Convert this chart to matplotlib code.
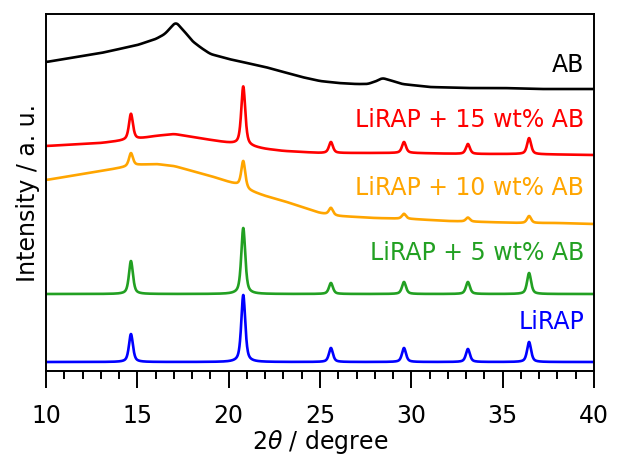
import numpy as np
import matplotlib
matplotlib.use('Agg')
import matplotlib.pyplot as plt

# Reflection positions of LiRAP (2theta, degree)
peak_pos = [14.65, 20.8, 25.6, 29.6, 33.1, 36.45]

# Peak heights above the local background for each pattern (a.u.)
h_lirap = [28, 67, 14, 14, 13, 20]
h_ab5 = [33, 66, 11, 12, 12, 21]
h_ab10 = [13, 27, 7, 5, 4, 7]
h_ab15 = [26, 59, 11, 11, 10, 16]

# Background (stacked, a.u.)
bg_x_ab = [10, 11, 12, 13, 14, 15, 16, 16.5, 17.1, 17.6, 18, 18.5, 19, 20, 21, 22,
           23, 24, 25, 26, 27, 27.6, 28.1, 28.4, 28.8, 29.5, 30, 31, 33, 35, 37, 40]
bg_y_ab = [309, 312, 315, 318, 322, 326, 332, 337, 349, 339, 330, 323, 317, 312, 308, 304,
           299, 294, 290, 288, 287, 287, 290, 293, 291, 287, 286, 284, 283, 283, 282, 282]

bg_x_ab15 = [10, 11, 12, 13, 14, 15, 16, 17, 18, 19, 20, 21, 22, 23, 24, 25, 27, 30, 33, 36, 40]
bg_y_ab15 = [225, 226, 227, 228, 230, 232, 235, 237, 234, 231, 228, 225, 222, 220, 219, 218,
             218, 218, 217, 217, 216]

bg_x_ab10 = [10, 11, 12, 13, 14, 15, 16, 17, 18, 19, 20, 20.5, 21, 21.5, 22, 23, 24, 25,
             26, 27, 28, 30, 32, 34, 36, 38, 40]
bg_y_ab10 = [191, 194, 197, 200, 203, 206, 207, 205, 200, 195, 189, 186, 181, 178, 175, 170,
             164, 158, 155, 154, 153, 152, 150, 149, 148, 148, 147]

base_ab5 = 77
base_lirap = 9

labels = ['AB', 'LiRAP + 15 wt% AB', 'LiRAP + 10 wt% AB', 'LiRAP + 5 wt% AB', 'LiRAP']
label_y = [306, 251, 183, 118, 49]
colors = ['black', '#ff0000', '#ffa500', '#22a022', '#0000ff']

tt = np.linspace(10, 40, 3001)


def background(xs, ys, win=0.4):
    # piecewise background, softened so the corners do not show
    y = np.interp(tt, xs, ys)
    n = int(win / (tt[1] - tt[0]))
    k = np.ones(n) / n
    pad = np.concatenate([np.full(n, y[0]), y, np.full(n, y[-1])])
    return np.convolve(pad, k, mode='same')[n:-n]


def pattern(bg, heights, fwhm=0.26, eta=0.6):
    # pseudo-Voigt reflections on top of a background
    y = np.array(bg, dtype=float) * np.ones_like(tt)
    for p, h in zip(peak_pos, heights):
        d = (tt - p) / (fwhm / 2)
        lor = 1 / (1 + d ** 2)
        gau = np.exp(-np.log(2) * d ** 2)
        y += h * (eta * lor + (1 - eta) * gau)
    return y


curves = [
    background(bg_x_ab, bg_y_ab, 0.3),
    pattern(background(bg_x_ab15, bg_y_ab15), h_ab15),
    pattern(background(bg_x_ab10, bg_y_ab10), h_ab10),
    pattern(base_ab5, h_ab5),
    pattern(base_lirap, h_lirap),
]

fig = plt.figure(figsize=(6.17, 4.55), dpi=100)
ax = fig.add_axes([0.0746, 0.1846, 0.888, 0.7846])

for y, c in zip(curves, colors):
    ax.plot(tt, y, color=c, lw=1.9)

for lab, ly, c in zip(labels, label_y, colors):
    ax.text(39.45, ly, lab, color=c, fontsize=17, ha='right', va='center')

ax.set_xlim(10, 40)
ax.set_ylim(0, 357)
ax.set_yticks([])
ax.set_xticks(np.arange(10, 41, 5))
ax.set_xticks(np.arange(10, 41, 1), minor=True)
ax.tick_params(axis='x', which='major', direction='out', length=12, width=1.4,
               labelsize=17, pad=12)
ax.tick_params(axis='x', which='minor', direction='out', length=6, width=1.4)
for s in ax.spines.values():
    s.set_linewidth(1.4)

ax.set_xlabel(r'2$\theta$ / degree', fontsize=17, labelpad=0)
ax.set_ylabel('Intensity / a. u.', fontsize=17, labelpad=4)

fig.savefig('out.png', dpi=100)
